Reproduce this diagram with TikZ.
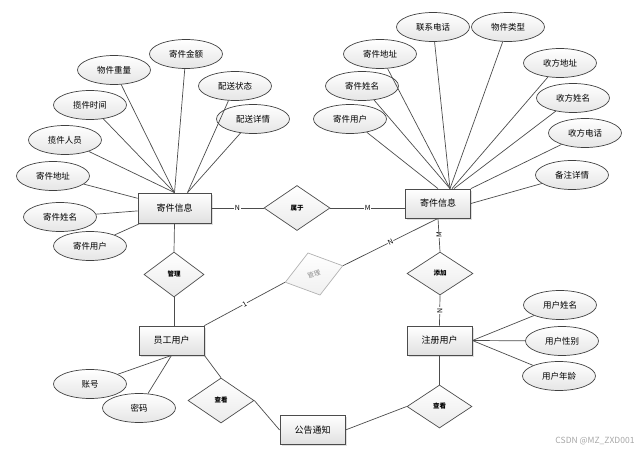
\documentclass[tikz,border=0pt]{standalone}
\usepackage{fontspec}
\setmainfont{Noto Sans CJK SC}
\usetikzlibrary{shapes.geometric,shadows}

\begin{document}
\begin{tikzpicture}[x=1pt,y=-1pt,
		entity/.style={rectangle, draw=black!70, line width=0.8pt, top color=white, bottom color=black!12, minimum width=65pt, minimum height=29pt, inner sep=0pt, font=\fontsize{9}{10}\selectfont, drop shadow={opacity=0.25, shadow xshift=1.5pt, shadow yshift=-1.5pt}},
		attr/.style={ellipse, draw=black!75, line width=0.7pt, top color=white, bottom color=black!10, minimum width=73pt, minimum height=29pt, inner sep=0pt, font=\fontsize{8.5}{10}\selectfont},
		rel/.style={diamond, draw=black!70, line width=0.7pt, top color=white, bottom color=black!8, minimum width=66pt, minimum height=45pt, inner sep=0pt, font=\bfseries\fontsize{6.5}{7}\selectfont},
		card/.style={font=\fontsize{7}{8}\selectfont, fill=white, inner sep=0.6pt},
		every edge/.style={draw=black!70, line width=0.7pt}]
		\useasboundingbox (0,0) rectangle (641,453);
		% entities
		\node[entity, minimum width=73pt, minimum height=30pt] (S_1) at (174.5,208) {寄件信息};
		\node[entity]        (S_2)   at (438,203.5) {寄件信息};
		\node[entity]        (Y_1)   at (171.5,340.5) {员工用户};
		\node[entity]        (Z_1)   at (439.5,340.5) {注册用户};
		\node[entity]        (G_1)   at (312.5,430) {公告通知};
		
		% relations
		\node[rel]           (R_1)   at (297,208) {属于};
		\node[rel, minimum width=60pt] (R_2) at (174,274.5) {管理};
		\node[rel, minimum width=60pt, minimum height=44pt, rotate=16, draw=black!30, bottom color=black!6, text=black!45, font=\fontsize{6.5}{7}\selectfont] (R_3) at (314,274) {管理};
		\node[rel, minimum height=43pt] (R_4) at (440,273.5) {添加};
		\node[rel]           (R_5)   at (221,400.5) {查看};
		\node[rel, minimum width=65pt, minimum height=43pt] (R_6) at (439.5,406.5) {查看};
		
		% attributes of the left entity
		\node[attr]          (A_1)   at (114,70) {物件重量};
		\node[attr]          (A_2)   at (186,54) {寄件金额};
		\node[attr]          (A_3)   at (235,86) {配送状态};
		\node[attr]          (A_4)   at (90,105) {揽件时间};
		\node[attr]          (A_5)   at (253,119) {配送详情};
		\node[attr]          (A_6)   at (65,140) {揽件人员};
		\node[attr]          (A_7)   at (53,176) {寄件地址};
		\node[attr]          (A_8)   at (60,217) {寄件姓名};
		\node[attr]          (A_9)   at (90,246) {寄件用户};
		
		% attributes of the right entity
		\node[attr]          (B_1)   at (433,27) {联系电话};
		\node[attr]          (B_2)   at (508,27) {物件类型};
		\node[attr]          (B_3)   at (380,54) {寄件地址};
		\node[attr]          (B_4)   at (362,86) {寄件姓名};
		\node[attr]          (B_5)   at (350,119) {寄件用户};
		\node[attr]          (B_6)   at (560,63) {收方地址};
		\node[attr]          (B_7)   at (573,98) {收方姓名};
		\node[attr]          (B_8)   at (585,133) {收方电话};
		\node[attr]          (B_9)   at (572,175) {备注详情};
		
		% attributes of the users
		\node[attr]          (C_1)   at (90,384) {账号};
		\node[attr]          (C_2)   at (139,408) {密码};
		\node[attr]          (D_1)   at (560,305) {用户姓名};
		\node[attr]          (D_2)   at (562,341) {用户性别};
		\node[attr]          (D_3)   at (559,376) {用户年龄};
		
		\path (A_1) edge (S_1.north)
		(A_2) edge (S_1.north)
		(A_4) edge (S_1.north)
		(A_6) edge (S_1.north)
		(A_3) edge ([xshift=13pt]S_1.north)
		(A_5) edge ([xshift=13pt]S_1.north)
		(A_7) edge (S_1)
		(A_8) edge (S_1)
		(A_9) edge (S_1);
		
		\path (B_5) edge (S_2.north)
		(B_1) edge ([xshift=12pt]S_2.north)
		(B_2) edge ([xshift=12pt]S_2.north)
		(B_3) edge ([xshift=12pt]S_2.north)
		(B_4) edge ([xshift=12pt]S_2.north)
		(B_6) edge ([xshift=14pt]S_2.north)
		(B_7) edge ([xshift=16pt]S_2.north)
		(B_8) edge (S_2.north east)
		(B_9) edge (S_2.east);
		
		\path (C_1) edge (Y_1.south)
		(C_2) edge (Y_1.south)
		(D_1) edge (Z_1.east)
		(D_2) edge (Z_1.east)
		(D_3) edge (Z_1.east);
		
		\path (S_1.east) edge node[card] {N} (R_1.west)
		(R_1.east) edge node[card] {M} (R_1.east -| S_2.west)
		(S_1.south) edge (R_2.north)
		(R_2.south) edge (R_2.south |- Y_1.north)
		(S_2.south) edge node[card, rotate=90] {M} (R_4.north)
		(R_4.south) edge node[card, rotate=90] {N} (Z_1.north)
		(R_3.east) edge node[card, sloped] {N} (S_2.south)
		(R_3.west) edge node[card, sloped] {1} (Y_1.north east)
		(Y_1.south east) edge (R_5.north)
		(R_5.east) edge (G_1.west)
		(G_1.east) edge (R_6.west)
		(R_6.north) edge (Z_1.south);
		
		\node[anchor=east, text=black!35, font=\fontsize{8.5}{9}\selectfont] (W_1) at (638,441) {CSDN @MZ\_ZXD001};
	\end{tikzpicture}
\end{document}
